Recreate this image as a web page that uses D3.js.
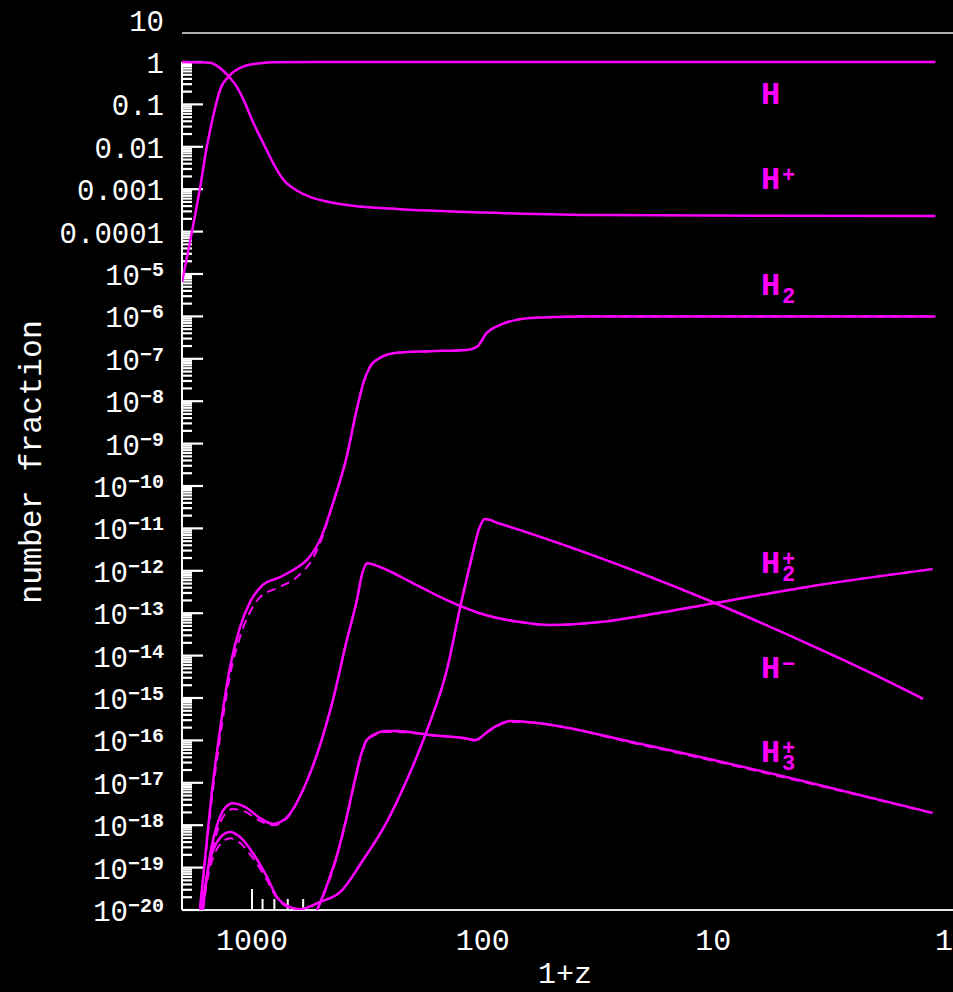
<!DOCTYPE html>
<html>
<head>
<meta charset="utf-8">
<script src="https://cdn.jsdelivr.net/npm/d3@7"></script>
<style>
  html, body { margin: 0; padding: 0; background: #000; }
  svg { display: block; }
  text { font-family: "Liberation Mono", "DejaVu Sans Mono", monospace; fill: #fff; }
</style>
</head>
<body>
<svg id="chart" width="953" height="992"></svg>
<script>
// every point is [1+z, log10(number fraction)]
var hData = [[2010, -5.19], [1825, -4.03], [1680, -2.97], [1570, -2.00], [1475, -1.29], [1376, -0.66],
    [1245, -0.31], [1094, -0.11], [923, -0.03], [800, -0.005], [500, 0], [1.09, 0]];

var hPlusData = [[2010, 0], [1520, -0.02], [1403, -0.11], [1267, -0.33], [1165, -0.58], [1072, -0.97],
    [986, -1.44], [923, -1.76], [863, -2.08], [794, -2.47], [756, -2.665], [719, -2.82], [684, -2.925],
    [640, -3.03], [561, -3.18], [475, -3.29], [340, -3.41], [228, -3.47], [84, -3.56], [31, -3.61], [1.09, -3.63]];

var h2Data = [[1680, -19.95], [1600, -18.82], [1506, -17.41], [1376, -15.75], [1245, -14.27], [1127, -13.33],
    [1020, -12.74], [896, -12.33], [756, -12.15], [640, -11.93], [579, -11.75], [507, -11.27], [444, -10.38],
    [389, -9.32], [352, -8.21], [329, -7.57], [308, -7.19], [279, -6.98], [236, -6.86], [169, -6.82],
    [117, -6.79], [106, -6.72], [96, -6.39], [84, -6.20], [62, -6.04], [38, -6.0], [1.09, -6.0]];

var h2DashData = [[1680, -20.0], [1600, -18.9], [1506, -17.55], [1376, -15.95], [1245, -14.46], [1127, -13.56],
    [1020, -12.97], [923, -12.62], [756, -12.38], [640, -12.15], [540, -11.67], [507, -11.35], [444, -10.38],
    [389, -9.32], [352, -8.21], [329, -7.57], [308, -7.19], [279, -6.98], [236, -6.86], [169, -6.82],
    [117, -6.79], [106, -6.72], [96, -6.39], [84, -6.20], [62, -6.04], [38, -6.0], [1.09, -6.0]];

var h2PlusData = [[1630, -19.95], [1520, -18.70], [1403, -17.92], [1309, -17.59], [1208, -17.48], [1072, -17.57],
    [923, -17.83], [811, -17.97], [705, -17.81], [601, -17.17], [507, -16.11], [446, -15.05], [388, -13.63],
    [351, -12.69], [334, -12.10], [317, -11.82], [279, -11.91], [201, -12.29], [143, -12.69], [103, -13.00],
    [69, -13.21], [51, -13.28], [31, -13.21], [20.8, -13.07], [9.8, -12.76], [3.93, -12.38], [1.12, -11.96]];

var h2PlusDashData = [[1630, -20.0], [1520, -18.85], [1403, -18.08], [1309, -17.74], [1208, -17.62], [1072, -17.68],
    [923, -17.90], [811, -18.00], [705, -17.83], [601, -17.17], [507, -16.11], [446, -15.05], [388, -13.63],
    [351, -12.69], [334, -12.10], [317, -11.82], [279, -11.91], [201, -12.29], [143, -12.69], [103, -13.00],
    [69, -13.21], [51, -13.28], [31, -13.21], [20.8, -13.07], [9.8, -12.76], [3.93, -12.38], [1.12, -11.96]];

var hMinusData = [[1652, -19.95], [1520, -18.82], [1376, -18.30], [1245, -18.16], [1127, -18.28], [990, -18.66],
    [861, -19.22], [780, -19.69], [685, -19.93], [619, -19.98], [507, -19.81], [415, -19.58], [330, -18.82],
    [265, -18.00], [213, -16.93], [174, -15.75], [143, -14.34], [125, -12.85], [113, -11.82], [103, -10.97],
    [98, -10.78], [84.2, -10.89], [46.2, -11.36], [20.8, -12.05], [9.84, -12.76], [3.93, -13.71],
    [2.09, -14.40], [1.23, -15.02]];

var hMinusDashData = [[1652, -20.0], [1520, -19.0], [1376, -18.45], [1245, -18.31], [1127, -18.42], [990, -18.78],
    [861, -19.30], [780, -19.72], [685, -19.95], [619, -19.98], [507, -19.81], [415, -19.58], [330, -18.82],
    [265, -18.00], [213, -16.93], [174, -15.75], [143, -14.34], [125, -12.85], [113, -11.82], [103, -10.97],
    [98, -10.78], [84.2, -10.89], [46.2, -11.36], [20.8, -12.05], [9.84, -12.76], [3.93, -13.71],
    [2.09, -14.40], [1.23, -15.02]];

var h3PlusData = [[522, -20.0], [473, -19.41], [428, -18.70], [387, -17.76], [358, -16.93], [337, -16.34],
    [318, -15.99], [293, -15.85], [265, -15.78], [236, -15.78], [169, -15.87], [122, -15.94], [108, -15.99],
    [93, -15.75], [76, -15.54], [62, -15.57], [20.8, -16.08], [3.93, -16.98], [1.12, -17.71]];

var h3PlusDashData = [[522, -20.0], [473, -19.45], [428, -18.74], [387, -17.80], [358, -16.96], [337, -16.37],
    [318, -16.01], [293, -15.87], [265, -15.80], [236, -15.80], [169, -15.88], [122, -15.95], [108, -16.00],
    [93, -15.77], [76, -15.56], [62, -15.58], [20.8, -16.10], [3.93, -17.00], [1.12, -17.72]];

var xTickValues = [1000, 100, 10, 1];
var xMinorTickValues = [900, 800, 700, 600];
var yTickExponents = d3.range(1, -21, -1);

// species labels: subscript, superscript, log10 fraction of the baseline
var speciesLabels = [
    { sub: "",  sup: "",  at: -1.0 },
    { sub: "",  sup: "+", at: -3.0 },
    { sub: "2", sup: "",  at: -5.5 },
    { sub: "2", sup: "+", at: -12.05 },
    { sub: "",  sup: "\u2212", at: -14.52 },
    { sub: "3", sup: "+", at: -16.52 }
];

var colors = {
    line: "#ff00ff",
    axis: "#e8e8e8",
    tick: "#ffffff"
};

var frame = { left: 182, right: 953, top: 33, bottom: 910, axisTop: 62 };

var svg = d3.select("#chart");
svg.append("rect").attr("width", 953).attr("height", 992).attr("fill", "#000");

var x = d3.scaleLog().domain([1000, 1]).range([252, 944]);
var y = d3.scaleLog().domain([1e-20, 1]).range([910, 62]);

function yv(e) { return y(Math.pow(10, e)); }

// frame lines
svg.append("line")
    .attr("x1", frame.left).attr("x2", frame.right)
    .attr("y1", frame.top).attr("y2", frame.top)
    .attr("stroke", colors.axis).attr("stroke-width", 1.6);
svg.append("line")
    .attr("x1", frame.left).attr("x2", frame.right)
    .attr("y1", frame.bottom).attr("y2", frame.bottom)
    .attr("stroke", colors.axis).attr("stroke-width", 2);
svg.append("line")
    .attr("x1", frame.left).attr("x2", frame.left)
    .attr("y1", frame.axisTop).attr("y2", frame.bottom)
    .attr("stroke", colors.tick).attr("stroke-width", 2);

// y ticks
var yMinor = [];
for (var e = -20; e < 0; e++) {
    for (var m = 2; m <= 9; m++) yMinor.push(m * Math.pow(10, e));
}
var yg = svg.append("g").attr("class", "y axis");
yg.selectAll("line.minor")
    .data(yMinor)
    .enter().append("line")
    .attr("class", "minor")
    .attr("x1", frame.left).attr("x2", frame.left + 10)
    .attr("y1", function (d) { return y(d); })
    .attr("y2", function (d) { return y(d); })
    .attr("stroke", colors.tick).attr("stroke-width", 2.2);
yg.selectAll("line.major")
    .data(yTickExponents.filter(function (e) { return e <= 0; }))
    .enter().append("line")
    .attr("class", "major")
    .attr("x1", frame.left).attr("x2", frame.left + 21)
    .attr("y1", function (e) { return yv(e); })
    .attr("y2", function (e) { return yv(e); })
    .attr("stroke", colors.tick).attr("stroke-width", 2.2);

var yLabels = yg.selectAll("text")
    .data(yTickExponents)
    .enter().append("text")
    .attr("x", 164)
    .attr("y", function (e) { return yv(e) + 11; })
    .attr("text-anchor", "end")
    .style("font-size", "29px");
yLabels.each(function (e) {
    var t = d3.select(this);
    if (e >= -4) {
        t.text(e >= 0 ? String(Math.pow(10, e)) : "0." + "0".repeat(-e - 1) + "1");
    } else {
        t.append("tspan").text("10");
        t.append("tspan")
            .attr("dy", -9)
            .style("font-size", "20px")
            .style("font-weight", "bold")
            .text("\u2212" + (-e));
    }
});

// x ticks
var xg = svg.append("g").attr("class", "x axis");
xg.selectAll("line.minor")
    .data(xMinorTickValues)
    .enter().append("line")
    .attr("x1", function (d) { return x(d); })
    .attr("x2", function (d) { return x(d); })
    .attr("y1", frame.bottom).attr("y2", frame.bottom - 11)
    .attr("stroke", colors.tick).attr("stroke-width", 2);
xg.append("line")
    .attr("x1", x(1000)).attr("x2", x(1000))
    .attr("y1", frame.bottom).attr("y2", frame.bottom - 21)
    .attr("stroke", colors.tick).attr("stroke-width", 2);
xg.selectAll("text")
    .data(xTickValues)
    .enter().append("text")
    .attr("x", function (d) { return x(d); })
    .attr("y", 950)
    .attr("text-anchor", "middle")
    .style("font-size", "30px")
    .text(function (d) { return d; });

// axis titles
svg.append("text")
    .attr("x", 565).attr("y", 983)
    .attr("text-anchor", "middle")
    .style("font-size", "30px")
    .text("1+z");
svg.append("text")
    .attr("transform", "translate(41,462) rotate(-90)")
    .attr("text-anchor", "middle")
    .style("font-size", "31.5px")
    .text("number fraction");

// curves
svg.append("clipPath").attr("id", "plot-clip")
    .append("rect")
    .attr("x", frame.left).attr("y", frame.top)
    .attr("width", frame.right - frame.left).attr("height", frame.bottom - frame.top);

var line = d3.line()
    .curve(d3.curveMonotoneX)
    .x(function (d) { return x(d[0]); })
    .y(function (d) { return yv(d[1]); });

var series = [
    { data: h2DashData, dashed: true },
    { data: h2PlusDashData, dashed: true },
    { data: hMinusDashData, dashed: true },
    { data: h3PlusDashData, dashed: true },
    { data: hData, dashed: false },
    { data: hPlusData, dashed: false },
    { data: h2Data, dashed: false },
    { data: h2PlusData, dashed: false },
    { data: hMinusData, dashed: false },
    { data: h3PlusData, dashed: false }
];

svg.append("g")
    .attr("clip-path", "url(#plot-clip)")
    .selectAll("path")
    .data(series)
    .enter().append("path")
    .attr("d", function (s) { return line(s.data); })
    .attr("fill", "none")
    .attr("stroke", colors.line)
    .attr("stroke-width", function (s) { return s.dashed ? 2 : 2.5; })
    .attr("stroke-dasharray", function (s) { return s.dashed ? "9,6" : null; })
    .attr("stroke-linejoin", "round");

// species labels, one text each with stacked super/subscripts
var labelX = 761;
var lg = svg.append("g").attr("class", "labels");
speciesLabels.forEach(function (lab) {
    var base = yv(lab.at);
    var t = lg.append("text")
        .attr("x", labelX).attr("y", base)
        .style("font-weight", "bold")
        .style("fill", colors.line);
    t.append("tspan").style("font-size", "32px").text("H");
    if (lab.sup) {
        t.append("tspan")
            .attr("x", labelX + 21).attr("y", base - 7)
            .style("font-size", "22px")
            .text(lab.sup);
    }
    if (lab.sub) {
        t.append("tspan")
            .attr("x", labelX + 21).attr("y", base + 8)
            .style("font-size", "22px")
            .text(lab.sub);
    }
});
</script>
</body>
</html>
